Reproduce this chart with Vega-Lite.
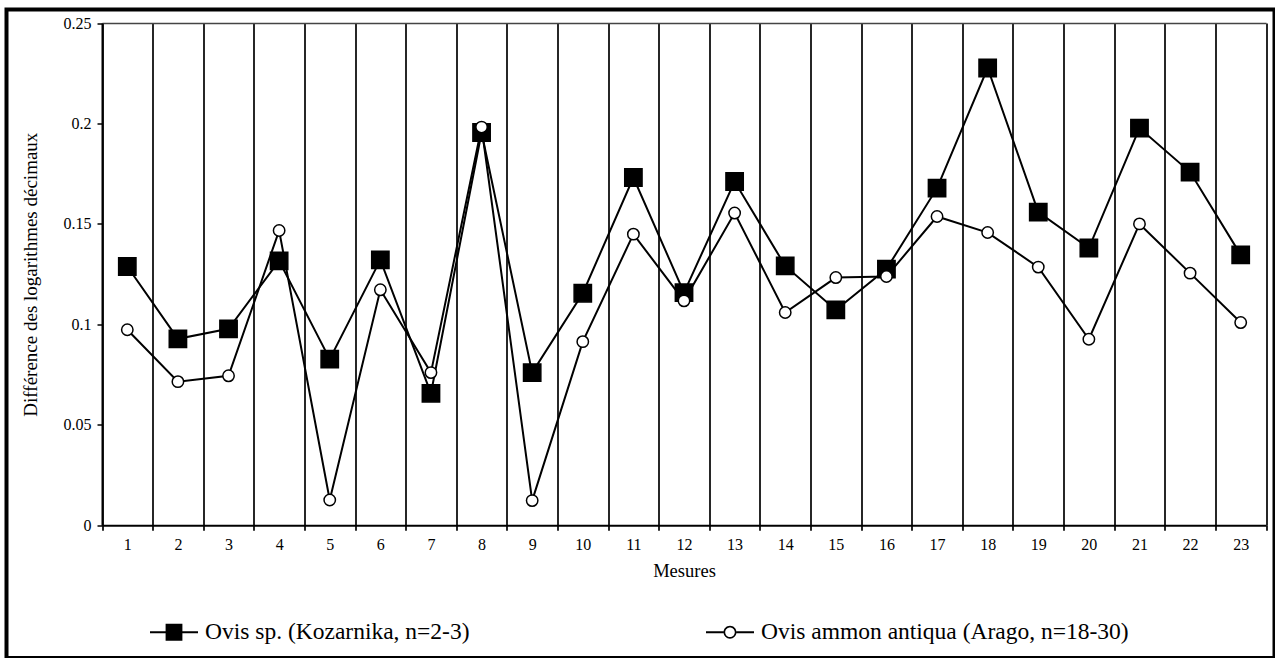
{
  "$schema": "https://vega.github.io/schema/vega-lite/v6.json",
  "width": 1268,
  "height": 648.5,
  "autosize": "none",
  "padding": {"left": 6.5, "top": 9.5, "right": 0, "bottom": 0},
  "background": "white",
  "config": {
    "view": {"stroke": "black", "strokeWidth": 4},
    "font": "Liberation Serif",
    "axis": {
      "labelFont": "Liberation Serif",
      "titleFont": "Liberation Serif",
      "labelColor": "black",
      "titleColor": "black",
      "titleFontWeight": "normal",
      "domainColor": "black",
      "tickColor": "black"
    }
  },
  "data": {
    "values": [
      {"m": 1, "serie": "Ovis sp. (Kozarnika, n=2-3)", "v": 0.1288},
      {"m": 2, "serie": "Ovis sp. (Kozarnika, n=2-3)", "v": 0.0928},
      {"m": 3, "serie": "Ovis sp. (Kozarnika, n=2-3)", "v": 0.0978},
      {"m": 4, "serie": "Ovis sp. (Kozarnika, n=2-3)", "v": 0.1316},
      {"m": 5, "serie": "Ovis sp. (Kozarnika, n=2-3)", "v": 0.0827},
      {"m": 6, "serie": "Ovis sp. (Kozarnika, n=2-3)", "v": 0.1321},
      {"m": 7, "serie": "Ovis sp. (Kozarnika, n=2-3)", "v": 0.0657},
      {"m": 8, "serie": "Ovis sp. (Kozarnika, n=2-3)", "v": 0.1955},
      {"m": 9, "serie": "Ovis sp. (Kozarnika, n=2-3)", "v": 0.076},
      {"m": 10, "serie": "Ovis sp. (Kozarnika, n=2-3)", "v": 0.1155},
      {"m": 11, "serie": "Ovis sp. (Kozarnika, n=2-3)", "v": 0.1731},
      {"m": 12, "serie": "Ovis sp. (Kozarnika, n=2-3)", "v": 0.1158},
      {"m": 13, "serie": "Ovis sp. (Kozarnika, n=2-3)", "v": 0.1711},
      {"m": 14, "serie": "Ovis sp. (Kozarnika, n=2-3)", "v": 0.1291},
      {"m": 15, "serie": "Ovis sp. (Kozarnika, n=2-3)", "v": 0.1072},
      {"m": 16, "serie": "Ovis sp. (Kozarnika, n=2-3)", "v": 0.1275},
      {"m": 17, "serie": "Ovis sp. (Kozarnika, n=2-3)", "v": 0.1678},
      {"m": 18, "serie": "Ovis sp. (Kozarnika, n=2-3)", "v": 0.2276},
      {"m": 19, "serie": "Ovis sp. (Kozarnika, n=2-3)", "v": 0.1559},
      {"m": 20, "serie": "Ovis sp. (Kozarnika, n=2-3)", "v": 0.138},
      {"m": 21, "serie": "Ovis sp. (Kozarnika, n=2-3)", "v": 0.1977},
      {"m": 22, "serie": "Ovis sp. (Kozarnika, n=2-3)", "v": 0.1758},
      {"m": 23, "serie": "Ovis sp. (Kozarnika, n=2-3)", "v": 0.1346},
      {"m": 1, "serie": "Ovis ammon antiqua (Arago, n=18-30)", "v": 0.0973},
      {"m": 2, "serie": "Ovis ammon antiqua (Arago, n=18-30)", "v": 0.0715},
      {"m": 3, "serie": "Ovis ammon antiqua (Arago, n=18-30)", "v": 0.0744},
      {"m": 4, "serie": "Ovis ammon antiqua (Arago, n=18-30)", "v": 0.1467},
      {"m": 5, "serie": "Ovis ammon antiqua (Arago, n=18-30)", "v": 0.0126},
      {"m": 6, "serie": "Ovis ammon antiqua (Arago, n=18-30)", "v": 0.1172},
      {"m": 7, "serie": "Ovis ammon antiqua (Arago, n=18-30)", "v": 0.076},
      {"m": 8, "serie": "Ovis ammon antiqua (Arago, n=18-30)", "v": 0.1982},
      {"m": 9, "serie": "Ovis ammon antiqua (Arago, n=18-30)", "v": 0.0123},
      {"m": 10, "serie": "Ovis ammon antiqua (Arago, n=18-30)", "v": 0.0914},
      {"m": 11, "serie": "Ovis ammon antiqua (Arago, n=18-30)", "v": 0.1449},
      {"m": 12, "serie": "Ovis ammon antiqua (Arago, n=18-30)", "v": 0.1117},
      {"m": 13, "serie": "Ovis ammon antiqua (Arago, n=18-30)", "v": 0.1554},
      {"m": 14, "serie": "Ovis ammon antiqua (Arago, n=18-30)", "v": 0.1059},
      {"m": 15, "serie": "Ovis ammon antiqua (Arago, n=18-30)", "v": 0.1233},
      {"m": 16, "serie": "Ovis ammon antiqua (Arago, n=18-30)", "v": 0.1238},
      {"m": 17, "serie": "Ovis ammon antiqua (Arago, n=18-30)", "v": 0.1537},
      {"m": 18, "serie": "Ovis ammon antiqua (Arago, n=18-30)", "v": 0.1457},
      {"m": 19, "serie": "Ovis ammon antiqua (Arago, n=18-30)", "v": 0.1285},
      {"m": 20, "serie": "Ovis ammon antiqua (Arago, n=18-30)", "v": 0.0926},
      {"m": 21, "serie": "Ovis ammon antiqua (Arago, n=18-30)", "v": 0.15},
      {"m": 22, "serie": "Ovis ammon antiqua (Arago, n=18-30)", "v": 0.1255},
      {"m": 23, "serie": "Ovis ammon antiqua (Arago, n=18-30)", "v": 0.1009}
    ]
  },
  "layer": [
    {
      "mark": {"type": "line", "stroke": "black", "strokeWidth": 2},
      "encoding": {
        "x": {
          "field": "m",
          "type": "ordinal",
          "scale": {"range": [95.5, 1259.5], "paddingInner": 0, "paddingOuter": 0},
          "axis": {
            "orient": "bottom",
            "offset": -132.7,
            "title": "Mesures",
            "labelAngle": 0,
            "tickBand": "extent",
            "grid": false,
            "domainWidth": 2,
            "tickWidth": 1.7,
            "tickSize": 5,
            "labelPadding": 6,
            "labelFontSize": 16,
            "titleFontSize": 18.5,
            "titlePadding": 9
          }
        },
        "y": {
          "field": "v",
          "type": "quantitative",
          "scale": {"domain": [0, 0.25], "range": [515.8, 13.5], "nice": false, "zero": false},
          "axis": {
            "orient": "left",
            "offset": -95.5,
            "title": "Différence des logarithmes décimaux",
            "values": [0, 0.05, 0.1, 0.15, 0.2, 0.25],
            "format": "~g",
            "grid": false,
            "domainWidth": 2,
            "tickWidth": 1.5,
            "tickSize": 5,
            "labelPadding": 6,
            "labelFontSize": 16,
            "titleFontSize": 19,
            "titlePadding": 23
          }
        },
        "detail": {"field": "serie"}
      }
    },
    {
      "mark": {"type": "point", "filled": true, "stroke": "black", "strokeWidth": 1.5, "opacity": 1},
      "encoding": {
        "x": {
          "field": "m",
          "type": "ordinal",
          "axis": {
            "orient": "top",
            "offset": -13.5,
            "title": null,
            "labels": false,
            "ticks": false,
            "grid": true,
            "gridColor": "black",
            "gridWidth": 1.7,
            "gridOpacity": 1,
            "tickBand": "extent",
            "domainColor": "#444444",
            "domainWidth": 1.5
          }
        },
        "y": {"field": "v", "type": "quantitative"},
        "shape": {
          "field": "serie",
          "type": "nominal",
          "scale": {"domain": ["Ovis sp. (Kozarnika, n=2-3)", "Ovis ammon antiqua (Arago, n=18-30)"], "range": ["square", "circle"]},
          "legend": null
        },
        "fill": {
          "field": "serie",
          "type": "nominal",
          "scale": {"domain": ["Ovis sp. (Kozarnika, n=2-3)", "Ovis ammon antiqua (Arago, n=18-30)"], "range": ["black", "white"]},
          "legend": null
        },
        "size": {
          "field": "serie",
          "type": "nominal",
          "scale": {"domain": ["Ovis sp. (Kozarnika, n=2-3)", "Ovis ammon antiqua (Arago, n=18-30)"], "range": [300, 130]},
          "legend": null
        }
      }
    },
    {
      "transform": [{"filter": "datum.m > 100"}],
      "mark": {"type": "point", "filled": true, "color": "black", "strokeWidth": 0, "opacity": 1},
      "encoding": {
        "shape": {
          "field": "serie",
          "type": "nominal",
          "scale": {
            "domain": ["Ovis sp. (Kozarnika, n=2-3)", "Ovis ammon antiqua (Arago, n=18-30)"],
            "range": [
              "M-1,-0.042H1V0.042H-1Z M-0.35,-0.35H0.35V0.35H-0.35Z",
              "M-1,-0.042H-0.27V0.042H-1Z M0.27,-0.042H1V0.042H0.27Z M0.27,0C0.27,0.1491,0.1491,0.27,0,0.27C-0.1491,0.27,-0.27,0.1491,-0.27,0C-0.27,-0.1491,-0.1491,-0.27,0,-0.27C0.1491,-0.27,0.27,-0.1491,0.27,0Z M0.2,0C0.2,-0.1105,0.1105,-0.2,0,-0.2C-0.1105,-0.2,-0.2,-0.1105,-0.2,0C-0.2,0.1105,-0.1105,0.2,0,0.2C0.1105,0.2,0.2,0.1105,0.2,0Z"
            ]
          },
          "legend": {
            "title": null,
            "orient": "none",
            "legendX": 143.5,
            "legendY": 598.5,
            "direction": "horizontal",
            "symbolSize": 2304,
            "symbolStrokeWidth": 0,
            "symbolFillColor": "black",
            "symbolOpacity": 1,
            "labelFont": "Liberation Serif",
            "labelFontSize": 23.5,
            "labelColor": "black",
            "labelLimit": 600,
            "labelOffset": 7,
            "columnPadding": 236
          }
        }
      }
    }
  ],
  "resolve": {"axis": {"x": "independent"}, "scale": {"shape": "independent"}}
}
